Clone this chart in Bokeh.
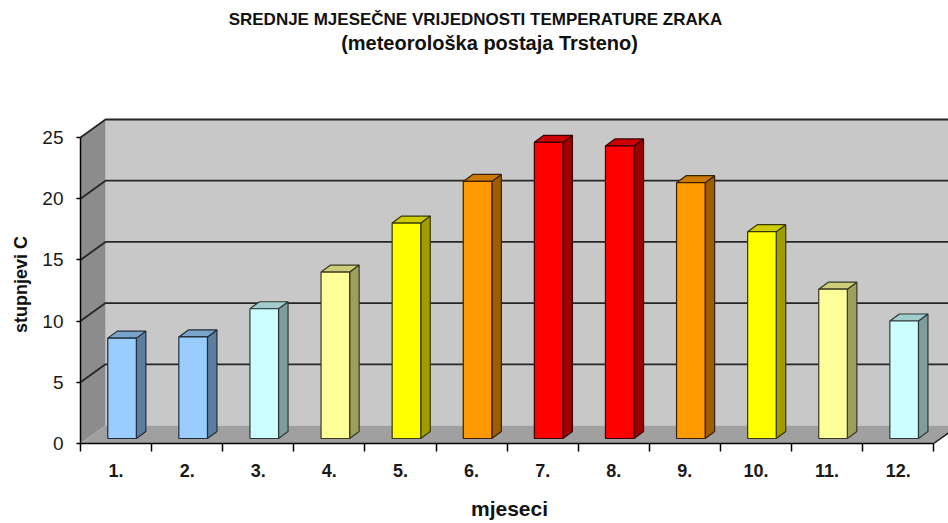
import math
from bokeh.plotting import figure
from bokeh.models import Range1d, FixedTicker, Label
from bokeh.embed import file_html
from bokeh.resources import INLINE

# ---- data ----
months = [1, 2, 3, 4, 5, 6, 7, 8, 9, 10, 11, 12]
month_labels = ["1.", "2.", "3.", "4.", "5.", "6.", "7.", "8.", "9.", "10.", "11.", "12."]
temps = [8.2, 8.3, 10.6, 13.6, 17.6, 21.0, 24.2, 23.9, 20.9, 16.9, 12.2, 9.6]
y_ticks = [0, 5, 10, 15, 20, 25]
title_line1 = "SREDNJE MJESEČNE VRIJEDNOSTI TEMPERATURE ZRAKA"
title_line2 = "(meteorološka postaja Trsteno)"
y_title = "stupnjevi C"
x_title = "mjeseci"

bar_colors = ["#99ccff", "#99ccff", "#ccffff", "#ffff99", "#ffff00", "#ff9900",
              "#ff0000", "#ff0000", "#ff9900", "#ffff00", "#ffff99", "#ccffff"]

# ---- layout / pseudo-3D geometry ----
W, H = 948, 523
AX_X, AX_Y = 80, 443          # pixel position of the axes corner
PX_X = 71.1                   # pixels per category
PX_Y = 12.24                  # pixels per degree
wdx, wdy = 25 / PX_X, 18 / PX_Y          # wall depth
ox, oy = 6 / PX_X, 5 / PX_Y              # bar front offset into depth
hw = 14.3 / PX_X                          # half bar width
ddx, ddy = 9.5 / PX_X, 7 / PX_Y           # bar depth
ymax = y_ticks[-1]
x0r, x1r = months[0] - 0.5, months[-1] + 0.5

def px2x(px):
    return x0r + (px - AX_X) / PX_X

def px2y(py):
    return (AX_Y - py) / PX_Y

def shade(hexcol, f):
    h = hexcol.lstrip("#")
    r, g, b = (int(h[i:i + 2], 16) for i in (0, 2, 4))
    return "#%02x%02x%02x" % (int(r * f), int(g * f), int(b * f))

p = figure(width=W, height=H, output_backend="svg", toolbar_location=None,
           x_range=Range1d(px2x(0), px2x(W)), y_range=Range1d(px2y(H), px2y(0)),
           min_border=0, min_border_left=0, min_border_right=0,
           min_border_top=0, min_border_bottom=0,
           background_fill_color="white", border_fill_color="white", outline_line_color=None)
p.xgrid.visible = False
p.ygrid.visible = False

# walls and floor
far = x1r + 1.0
p.patch([x0r + wdx, far, far, x0r + wdx], [wdy, wdy, ymax + wdy, ymax + wdy],
        fill_color="#c8c8c8", line_color=None)
p.patch([x0r, x0r + wdx, x0r + wdx, x0r], [0, wdy, ymax + wdy, ymax],
        fill_color="#8c8c8c", line_color=None)
p.patch([x0r, x1r, x1r + wdx, x0r + wdx], [0, 0, wdy, wdy],
        fill_color="#a0a0a0", line_color=None)

# gridlines on side + back wall
gxs, gys = [], []
for t in y_ticks[1:]:
    gxs.append([x0r, x0r + wdx, far])
    gys.append([t, t + wdy, t + wdy])
p.multi_line(gxs, gys, line_color="#262626", line_width=1.8)
# floor right edge
p.line([x1r, x1r + wdx], [0, wdy], line_color="#202020", line_width=1.5)

# bars
fx, fy, tx, ty, sx, sy, fc, tc, sc, lc = [], [], [], [], [], [], [], [], [], []
for m, v, c in zip(months, temps, bar_colors):
    a, b = m + ox - hw, m + ox + hw
    y0, y1 = oy, v + oy
    fx.append([a, b, b, a]); fy.append([y0, y0, y1, y1])
    tx.append([a, b, b + ddx, a + ddx]); ty.append([y1, y1, y1 + ddy, y1 + ddy])
    sx.append([b, b + ddx, b + ddx, b]); sy.append([y0, y0 + ddy, y1 + ddy, y1])
    fc.append(c); tc.append(shade(c, 0.8)); sc.append(shade(c, 0.62)); lc.append(shade(c, 0.22))

p.patches(sx, sy, fill_color=sc, line_color=lc, line_width=1.2)
p.patches(tx, ty, fill_color=tc, line_color=lc, line_width=1.2)
p.patches(fx, fy, fill_color=fc, line_color=lc, line_width=1.2)

# axes (placed inside the canvas at the 3D front corner)
FONT = "Liberation Sans"
xa = p.xaxis[0]
xa.fixed_location = 0
xa.ticker = FixedTicker(ticks=months, minor_ticks=[m - 0.5 for m in months] + [months[-1] + 0.5])
xa.major_label_overrides = {m: lab for m, lab in zip(months, month_labels)}
xa.bounds = (x0r, x1r)
xa.axis_line_color = "black"
xa.axis_line_width = 1.5
xa.major_tick_line_color = None
xa.major_tick_out = 0
xa.major_tick_in = 0
xa.minor_tick_line_color = "black"
xa.minor_tick_line_width = 1.5
xa.minor_tick_out = 8
xa.minor_tick_in = 0
xa.major_label_standoff = 12
xa.major_label_text_font = FONT
xa.major_label_text_font_style = "bold"
xa.major_label_text_font_size = "18px"
xa.major_label_text_color = "#1a1a1a"

ya = p.yaxis[0]
ya.fixed_location = x0r
ya.ticker = FixedTicker(ticks=y_ticks, minor_ticks=[])
ya.bounds = (0, ymax)
ya.axis_line_color = "black"
ya.axis_line_width = 1.5
ya.major_tick_line_color = "black"
ya.major_tick_line_width = 1.5
ya.major_tick_out = 4
ya.major_tick_in = 0
ya.major_label_standoff = 13
ya.major_label_text_font = FONT
ya.major_label_text_font_size = "19px"
ya.major_label_text_color = "#1a1a1a"

# titles
def add_text(txt, cx, cy, size, angle=0.0):
    p.add_layout(Label(x=px2x(cx), y=px2y(cy), text=txt, angle=angle,
                       text_font=FONT, text_font_style="bold", text_font_size=size,
                       text_align="center", text_baseline="middle", text_color="#111111"))

add_text(title_line1, 475, 19, "17px")
add_text(title_line2, 489, 42, "20px")
add_text(x_title, 509, 508, "21px")
add_text(y_title, 20, 284, "18px", angle=math.pi / 2)

open("out.html", "w").write(file_html(p, INLINE))
